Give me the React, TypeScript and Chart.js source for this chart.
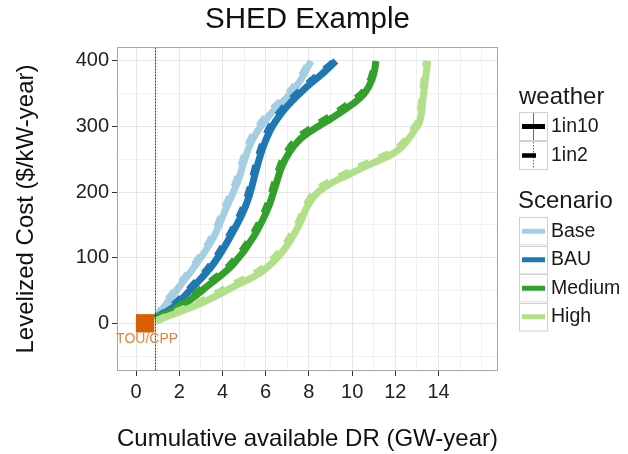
import { useEffect, useRef } from 'react';
import { Chart, registerables } from 'chart.js';
Chart.register(...registerables);

const FONT = '"Liberation Sans", Arial, Helvetica, sans-serif';

const chartTitle = 'SHED Example';
const xTitle = 'Cumulative available DR (GW-year)';
const yTitle = 'Levelized Cost ($/kW-year)';

const scenarios = ['Base', 'BAU', 'Medium', 'High'];
const scenarioColors = ['#A6CEE3', '#1F78B4', '#33A02C', '#B2DF8A'];
const weatherLevels = ['1in10', '1in2'];

// 1in10 (solid)
const baseX10 = [0.9, 1.3, 2.0, 2.8, 3.6, 4.2, 4.45, 4.75, 5.0, 5.3, 5.7, 6.3, 7.0, 7.6, 8.1];
const baseY10 = [8, 25, 56, 91, 132, 178, 196, 220, 247, 274, 297, 322, 345, 370, 400];
const bauX10 = [0.9, 1.73, 2.66, 3.59, 4.36, 5.06, 5.29, 5.52, 5.83, 6.22, 6.84, 7.92, 8.6, 9.25];
const bauY10 = [8, 25, 56, 91, 132, 178, 200, 229, 264, 295, 325, 361, 380, 400];
const medX10 = [0.9, 2.04, 3.28, 4.52, 5.44, 6.14, 6.42, 6.72, 7.1, 7.6, 8.23, 9.16, 9.7, 10.24, 10.6, 10.9, 11.05, 11.1];
const medY10 = [8, 25, 56, 91, 132, 178, 206, 237, 261, 281, 296, 315, 327, 340, 352, 370, 388, 400];
const highX10 = [0.9, 1.42, 2.97, 4.52, 5.91, 6.84, 7.5, 7.95, 8.3, 9.0, 9.8, 10.4, 11.0, 11.63, 12.2, 12.56, 12.9, 13.18, 13.33, 13.5];
const highY10 = [3, 10, 30, 56, 81, 112, 147, 180, 196, 213, 226, 236, 245, 254, 266, 279, 295, 315, 356, 400];

// 1in2 (dashed)
const baseX2 = [0.9, 1.23, 1.94, 2.73, 3.52, 4.12, 4.37, 4.67, 4.92, 5.22, 5.62, 6.22, 6.92, 7.53, 8.03];
const baseY2 = [8, 26, 57, 92, 133, 179, 197, 221, 248, 276, 299, 324, 347, 372, 400];
const bauX2 = [0.9, 1.65, 2.58, 3.51, 4.28, 4.98, 5.21, 5.44, 5.75, 6.14, 6.76, 7.85, 8.53, 9.18];
const bauY2 = [8, 26, 57, 92, 133, 179, 201, 230, 265, 297, 327, 363, 382, 400];
const medX2 = [0.9, 1.96, 3.2, 4.44, 5.36, 6.06, 6.34, 6.64, 7.02, 7.52, 8.15, 9.08, 9.62, 10.16, 10.52, 10.83, 10.98, 11.03];
const medY2 = [8, 26, 58, 93, 134, 180, 208, 239, 264, 284, 299, 318, 330, 343, 354, 371, 388, 400];
const highX2 = [0.9, 1.35, 2.88, 4.44, 5.83, 6.77, 7.42, 7.88, 8.22, 8.92, 9.72, 10.32, 10.92, 11.55, 12.12, 12.49, 12.83, 13.11, 13.26, 13.42];
const highY2 = [3, 11, 32, 59, 84, 115, 149, 182, 199, 216, 229, 239, 248, 257, 268, 281, 297, 317, 356, 400];

const touX = [0.42];
const touY = [0];
const touLabel = 'TOU/CPP';
const cutoffX = 0.9;

const xMajorTicks = [0, 2, 4, 6, 8, 10, 12, 14];
const xGridValues = [0, 1, 2, 3, 4, 5, 6, 7, 8, 9, 10, 11, 12, 13, 14, 15, 16];
const yMajorTicks = [0, 100, 200, 300, 400];
const yGridValues = [-50, 0, 50, 100, 150, 200, 250, 300, 350, 400];

const X_MIN = -0.88, X_MAX = 16.75, Y_MIN = -72.7, Y_MAX = 421.3;

const toPts = (xs: number[], ys: number[]) => xs.map((x, i) => ({ x, y: ys[i] }));

const series10 = [toPts(baseX10, baseY10), toPts(bauX10, bauY10), toPts(medX10, medY10), toPts(highX10, highY10)];
const series2 = [toPts(baseX2, baseY2), toPts(bauX2, bauY2), toPts(medX2, medY2), toPts(highX2, highY2)];

const overlayPlugin = {
  id: 'overlay',
  afterDraw(chart: any) {
    const { ctx, chartArea: a } = chart;
    ctx.save();
    // panel border
    ctx.strokeStyle = '#a6a6a6';
    ctx.lineWidth = 1;
    ctx.strokeRect(Math.round(a.left) + 0.5, Math.round(a.top) + 0.5, Math.round(a.right - a.left) - 1, Math.round(a.bottom - a.top) - 1);

    // chart title, centred on the panel
    ctx.fillStyle = '#111';
    ctx.font = `29.5px ${FONT}`;
    ctx.textAlign = 'center';
    ctx.textBaseline = 'middle';
    ctx.fillText(chartTitle, (a.left + a.right) / 2, 20);

    // TOU/CPP label
    const xs = chart.scales.x, ys = chart.scales.y;
    ctx.fillStyle = '#E8823A';
    ctx.font = `14px ${FONT}`;
    ctx.fillText(touLabel, xs.getPixelForValue(touX[0]) + 2, ys.getPixelForValue(touY[0]) + 16);

    // legend
    const lx = 519, kw = 29;
    ctx.textAlign = 'left';
    ctx.fillStyle = '#1a1a1a';
    ctx.font = `24px ${FONT}`;
    ctx.fillText('weather', 519, 97);
    const wTop = 112;
    weatherLevels.forEach((lv, i) => {
      const y0 = wTop + i * kw;
      ctx.fillStyle = '#ffffff';
      ctx.fillRect(lx, y0, kw, kw);
      ctx.strokeStyle = '#d0d0d0';
      ctx.lineWidth = 1;
      ctx.strokeRect(lx + 0.5, y0 + 0.5, kw - 1, kw - 1);
      const cy = y0 + kw / 2;
      ctx.strokeStyle = '#444';
      ctx.lineWidth = 0.8;
      ctx.setLineDash(i === 0 ? [] : [1.5, 1.5]);
      ctx.beginPath();
      ctx.moveTo(lx + 14.5, y0 + 1);
      ctx.lineTo(lx + 14.5, y0 + kw - 1);
      ctx.stroke();
      ctx.setLineDash([]);
      ctx.strokeStyle = '#000';
      ctx.lineWidth = i === 0 ? 5 : 4.5;
      ctx.lineCap = 'butt';
      ctx.beginPath();
      ctx.moveTo(lx + 3, cy);
      ctx.lineTo(i === 0 ? lx + 26 : lx + 17, cy);
      ctx.stroke();
      ctx.fillStyle = '#1a1a1a';
      ctx.font = `19.5px ${FONT}`;
      ctx.fillText(lv, 551, cy);
    });
    ctx.font = `24px ${FONT}`;
    ctx.fillText('Scenario', 518, 201);
    const sTop = 217;
    const sk = 28.5;
    scenarios.forEach((s, i) => {
      const y0 = sTop + i * sk;
      ctx.fillStyle = '#ffffff';
      ctx.fillRect(lx, y0, kw, sk);
      ctx.strokeStyle = '#d0d0d0';
      ctx.lineWidth = 1;
      ctx.strokeRect(lx + 0.5, Math.round(y0) + 0.5, kw - 1, sk - 1);
      const cy = y0 + sk / 2;
      ctx.strokeStyle = scenarioColors[i];
      ctx.lineWidth = 5;
      ctx.beginPath();
      ctx.moveTo(lx + 3, cy);
      ctx.lineTo(lx + 26, cy);
      ctx.stroke();
      ctx.fillStyle = '#1a1a1a';
      ctx.font = `19.5px ${FONT}`;
      ctx.fillText(s, 551, cy);
    });
    ctx.restore();
  },
};

export default function App() {
  const ref = useRef<HTMLCanvasElement>(null);
  useEffect(() => {
    document.body.style.margin = '0';
    const canvas = ref.current!;
    Chart.defaults.font.family = FONT;

    const datasets: any[] = [];
    datasets.push({
      type: 'line',
      label: 'cutoff',
      data: [{ x: cutoffX, y: -200 }, { x: cutoffX, y: 600 }],
      borderColor: '#333',
      borderWidth: 1,
      borderDash: [2, 1],
      pointRadius: 0,
      tension: 0,
    });
    datasets.push({
      type: 'scatter',
      label: touLabel,
      data: toPts(touX, touY),
      pointStyle: 'rect',
      pointRadius: 13,
      backgroundColor: '#D95F02',
      borderColor: '#D95F02',
      borderWidth: 0,
    });
    for (let i = scenarios.length - 1; i >= 0; i--) {
      datasets.push({
        type: 'line',
        label: scenarios[i] + ' ' + weatherLevels[1],
        data: series2[i],
        borderColor: scenarioColors[i],
        borderWidth: 6.5,
        borderDash: [11, 11],
        borderCapStyle: 'butt',
        pointRadius: 0,
        cubicInterpolationMode: 'monotone',
      });
      datasets.push({
        type: 'line',
        label: scenarios[i] + ' ' + weatherLevels[0],
        data: series10[i],
        borderColor: scenarioColors[i],
        borderWidth: 7,
        borderCapStyle: 'butt',
        pointRadius: 0,
        cubicInterpolationMode: 'monotone',
      });
    }

    const chart = new Chart(canvas, {
      type: 'line',
      data: { datasets },
      options: {
        responsive: false,
        animation: false,
        events: [],
        layout: { padding: { left: 0, right: 130, top: 47, bottom: 0 } },
        plugins: {
          legend: { display: false },
          tooltip: { enabled: false },
          title: { display: false },
        },
        scales: {
          x: {
            type: 'linear',
            min: X_MIN,
            max: X_MAX,
            afterBuildTicks: (s: any) => { s.ticks = xGridValues.map((v) => ({ value: v })); },
            afterFit: (s: any) => { s.height = 83; },
            border: { display: false },
            grid: {
              color: (c: any) => (xMajorTicks.includes(c.tick?.value) ? '#e6e6e6' : '#f1f1f1'),
              tickColor: (c: any) => (xMajorTicks.includes(c.tick?.value) ? '#333' : 'rgba(0,0,0,0)'),
              tickLength: 5,
              lineWidth: 1,
            },
            ticks: {
              autoSkip: false,
              maxRotation: 0,
              padding: 4,
              color: '#222',
              font: { size: 20 },
              callback: (v: any) => (xMajorTicks.includes(v) ? String(v) : ''),
            },
            title: {
              display: true,
              text: xTitle,
              color: '#111',
              font: { size: 24 },
              padding: { top: 0, bottom: 0 },
            },
          },
          y: {
            type: 'linear',
            min: Y_MIN,
            max: Y_MAX,
            afterBuildTicks: (s: any) => { s.ticks = yGridValues.map((v) => ({ value: v })); },
            afterFit: (s: any) => { s.width = 117; },
            border: { display: false },
            grid: {
              color: (c: any) => (yMajorTicks.includes(c.tick?.value) ? '#e6e6e6' : '#f1f1f1'),
              tickColor: (c: any) => (yMajorTicks.includes(c.tick?.value) ? '#333' : 'rgba(0,0,0,0)'),
              tickLength: 5,
              lineWidth: 1,
            },
            ticks: {
              autoSkip: false,
              padding: 3,
              color: '#222',
              font: { size: 20 },
              callback: (v: any) => (yMajorTicks.includes(v) ? String(v) : ''),
            },
            title: {
              display: true,
              text: yTitle,
              color: '#111',
              font: { size: 24 },
              padding: { top: 12, bottom: 0 },
            },
          },
        },
      },
      plugins: [overlayPlugin],
    } as any);
    return () => chart.destroy();
  }, []);
  return <canvas ref={ref} width={628} height={454} style={{ display: 'block' }} />;
}
